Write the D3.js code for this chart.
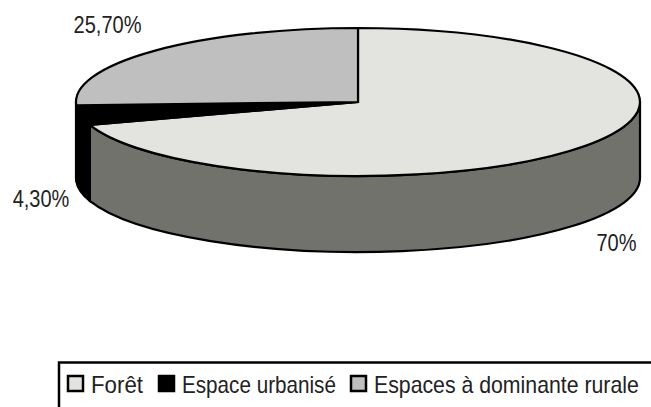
<!DOCTYPE html>
<html lang="fr">
<head>
    <meta charset="UTF-8">
    <script src="https://cdnjs.cloudflare.com/ajax/libs/d3/7.8.5/d3.min.js"></script>
    <title>Occupation du sol</title>
    <style>
        html, body { margin: 0; padding: 0; background: #fff; overflow: hidden; }
        text { font-family: "Liberation Sans", sans-serif; font-size: 23px; fill: #222; }
    </style>
</head>
<body>
<script>
    const categories = ["Forêt", "Espace urbanisé", "Espaces à dominante rurale"];
    const values = [70, 4.3, 25.7];
    const valueLabels = ["70%", "4,30%", "25,70%"];
    const topColors = ["#e3e4df", "#000000", "#bfbfbf"];
    const sideColors = ["#71726c", "#000000", "#5f5f5f"];
    const labelPos = [[616.5, 251], [41, 207], [107.5, 33]];
    const legendX = [66, 157, 349];
    const legendTextWidth = [52, 154, 265];

    const cx = 358, cy = 102, rx = 282, ry = 74, depth = 76;

    const svg = d3.select("body")
        .append("svg")
        .attr("width", 651)
        .attr("height", 407);

    const slices = d3.pie().sort(null)(values);

    const px = a => cx + rx * Math.sin(a);
    const py = a => cy - ry * Math.cos(a);

    // parois : seulement la moitie avant de l'ellipse
    const sidePath = (a0, a1) => {
        a0 = Math.max(a0, Math.PI / 2);
        a1 = Math.min(a1, Math.PI * 1.5);
        if (a1 <= a0) return null;
        return `M${px(a0)},${py(a0)}A${rx},${ry} 0 0 1 ${px(a1)},${py(a1)}` +
            `L${px(a1)},${py(a1) + depth}A${rx},${ry} 0 0 0 ${px(a0)},${py(a0) + depth}Z`;
    };

    svg.selectAll(".side")
        .data(slices)
        .enter()
        .append("path")
        .attr("class", "side")
        .attr("d", d => sidePath(d.startAngle, d.endAngle))
        .attr("fill", (d, i) => sideColors[i])
        .attr("stroke", "#000")
        .attr("stroke-width", 2.2);

    // dessus : arc circulaire aplati
    const arc = d3.arc().innerRadius(0).outerRadius(rx);
    svg.append("g")
        .attr("transform", `translate(${cx},${cy}) scale(1,${ry / rx})`)
        .selectAll("path")
        .data(slices)
        .enter()
        .append("path")
        .attr("d", arc)
        .attr("fill", (d, i) => topColors[i])
        .attr("stroke", "#000")
        .attr("stroke-width", 2.2)
        .attr("vector-effect", "non-scaling-stroke");

    // texte resserre : la police d'origine est plus etroite
    svg.selectAll(".val")
        .data(valueLabels)
        .enter()
        .append("text")
        .attr("class", "val")
        .attr("text-anchor", "middle")
        .attr("transform", (d, i) => `translate(${labelPos[i][0]},${labelPos[i][1]}) scale(0.87,1)`)
        .text(d => d);

    // legende (coupee par le bord droit et le bas)
    svg.append("rect")
        .attr("x", 59).attr("y", 362.5)
        .attr("width", 640).attr("height", 80)
        .attr("fill", "#fff")
        .attr("stroke", "#000")
        .attr("stroke-width", 2.5);

    const legend = svg.selectAll(".leg")
        .data(categories)
        .enter()
        .append("g")
        .attr("class", "leg")
        .attr("transform", (d, i) => `translate(${legendX[i]},376)`);

    legend.append("rect")
        .attr("x", 2).attr("y", 0)
        .attr("width", 15).attr("height", 15)
        .attr("fill", (d, i) => topColors[i])
        .attr("stroke", "#000")
        .attr("stroke-width", 2.5);

    legend.append("text")
        .text(d => d)
        .attr("transform", function (d, i) {
            return `translate(25,17) scale(${legendTextWidth[i] / this.getComputedTextLength()},1)`;
        });
</script>
</body>
</html>
